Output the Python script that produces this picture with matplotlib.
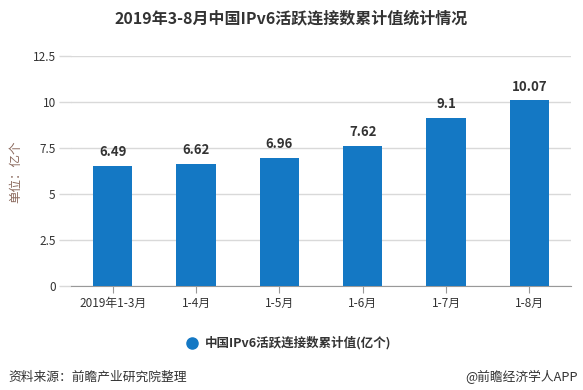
import matplotlib
matplotlib.use("Agg")
import matplotlib.pyplot as plt

plt.rcParams['font.family'] = ['Noto Sans CJK SC', 'DejaVu Sans']

categories = ['2019年1-3月', '1-4月', '1-5月', '1-6月', '1-7月', '1-8月']
values = [6.49, 6.62, 6.96, 7.62, 9.1, 10.07]
yticks = [0, 2.5, 5, 7.5, 10, 12.5]
ytick_labels = ['0', '2.5', '5', '7.5', '10', '12.5']

bar_color = '#1478c4'

fig = plt.figure(figsize=(5.83, 3.9), dpi=100)
ax = fig.add_axes([71/583, 1 - 286/390, 500/583, 230.3/390])

x = list(range(len(categories)))
ax.bar(x, values, width=0.47, color=bar_color, zorder=3)
for xi, v in zip(x, values):
    ax.annotate(f'{v:g}', (xi, v), xytext=(0, 5), textcoords='offset points',
                ha='center', va='bottom', fontsize=9.5, fontweight='bold', color='#333333')

ax.set_xlim(-0.5, len(categories) - 0.5)
ax.set_ylim(0, 12.5)
ax.set_yticks(yticks)
ax.set_yticklabels(ytick_labels)
ax.set_xticks(x)
ax.set_xticklabels(categories)
ax.grid(axis='y', color='#d9d9d9', linewidth=1, zorder=0)

for s in ['top', 'right', 'left']:
    ax.spines[s].set_visible(False)
ax.spines['bottom'].set_color('#999999')
ax.tick_params(axis='y', length=9, color='#d9d9d9', width=1, pad=2, labelsize=8.5, labelcolor='#333333')
ax.tick_params(axis='x', length=5, color='#999999', pad=3, labelsize=8.5, labelcolor='#333333')

fig.text(16/583, 1 - 172/390, '单位：亿个', rotation=90, ha='center', va='center',
         fontsize=9, color='#8b6a5e')

fig.text(0.5, 1 - 18/390, '2019年3-8月中国IPv6活跃连接数累计值统计情况', ha='center', va='center',
         fontsize=11.5, fontweight='bold', color='#333333')

# legend
fig.lines.append(plt.Line2D([192/583], [1 - 343/390], marker='o', markersize=8,
                            color=bar_color, transform=fig.transFigure))
fig.text(205/583, 1 - 343/390, '中国IPv6活跃连接数累计值(亿个)', ha='left', va='center',
         fontsize=9, fontweight='bold', color='#333333')

fig.text(8/583, 1 - 377/390, '资料来源：前瞻产业研究院整理', ha='left', va='center',
         fontsize=9.2, color='#333333')
fig.text(578/583, 1 - 377/390, '@前瞻经济学人APP', ha='right', va='center',
         fontsize=9.2, color='#333333')

fig.savefig('out.png', dpi=100, facecolor='white')
